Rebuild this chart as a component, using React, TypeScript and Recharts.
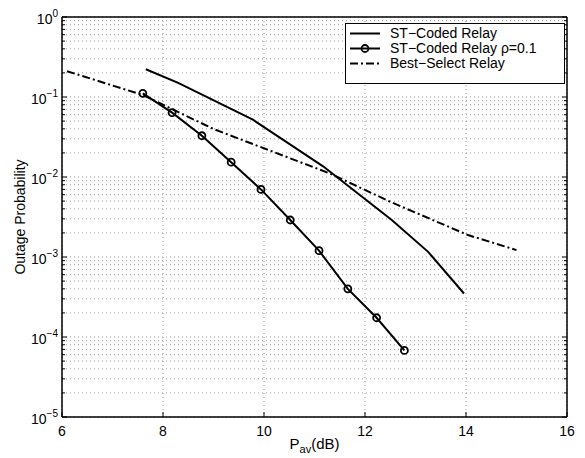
import React from 'react';
import { LineChart, Line, XAxis, YAxis, CartesianGrid, Legend } from 'recharts';

const FONT = '"Liberation Sans", Arial, Helvetica, sans-serif';

// ST-Coded Relay (solid line)
const stX = [7.66, 8.3, 9.78, 10.5, 11.17, 12.53, 13.25, 13.96];
const stY = [0.222, 0.15, 0.052, 0.026, 0.0136, 0.0029, 0.00116, 0.00035];

// ST-Coded Relay rho=0.1 (circles)
const rhoX = [7.6, 8.18, 8.77, 9.35, 9.94, 10.52, 11.09, 11.66, 12.23, 12.78];
const rhoY = [0.111, 0.0637, 0.0328, 0.0153, 0.007, 0.0029, 0.0012, 0.0004, 0.000174, 0.000068];

// Best-Select Relay (dash-dot)
const bsX = [6.1, 7.6, 9.0, 11.3, 12.5, 14.04, 15.0];
const bsY = [0.21, 0.106, 0.0398, 0.0111, 0.0049, 0.00188, 0.00122];

const xTicks = [6, 8, 10, 12, 14, 16];
const decades = [-5, -4, -3, -2, -1, 0];
const mantissas = [2, 3, 4, 5, 6, 7, 8, 9];

const yTicks = decades.flatMap((d) =>
  d === 0 ? [1] : [Math.pow(10, d), ...mantissas.map((m) => m * Math.pow(10, d))]
);

const toPts = (xs: number[], ys: number[]) => xs.map((x, i) => ({ x, y: ys[i] }));
const stData = toPts(stX, stY);
const rhoData = toPts(rhoX, rhoY);
const bsData = toPts(bsX, bsY);

const isMajor = (v: number) => Math.abs(Math.log10(v) - Math.round(Math.log10(v))) < 1e-6;

const LeftTick = (props: any) => {
  const { x, y, payload } = props;
  const v = payload.value;
  const major = isMajor(v);
  const e = Math.round(Math.log10(v));
  return (
    <g>
      <line x1={x} x2={x + (major ? 5 : 3)} y1={y} y2={y} stroke="#000" />
      {major && (
        <text x={x - 4} y={y + 7} textAnchor="end" fontFamily={FONT} fill="#000">
          <tspan fontSize={14}>10</tspan>
          <tspan fontSize={10} dy={-7}>{e === 0 ? '0' : '\u2212' + Math.abs(e)}</tspan>
        </text>
      )}
    </g>
  );
};

const RightTick = (props: any) => {
  const { x, y, payload } = props;
  const major = isMajor(payload.value);
  return <line x1={x} x2={x - (major ? 5 : 3)} y1={y} y2={y} stroke="#000" />;
};

const BottomTick = (props: any) => {
  const { x, y, payload } = props;
  return (
    <g>
      <line x1={x} x2={x} y1={y} y2={y - 5} stroke="#000" />
      <text x={x} y={y + 19} textAnchor="middle" fontSize={14} fontFamily={FONT} fill="#000">
        {payload.value}
      </text>
    </g>
  );
};

const TopTick = (props: any) => {
  const { x, y } = props;
  return <line x1={x} x2={x} y1={y} y2={y + 5} stroke="#000" />;
};

const LegendBox = () => (
  <svg width={220} height={61} style={{ display: 'block' }}>
    <rect x={0.5} y={0.5} width={219} height={60} fill="#fff" stroke="#000" />
    <line x1={5} x2={35} y1={10.5} y2={10.5} stroke="#000" strokeWidth={2} />
    <text x={45} y={15} fontSize={14} fontFamily={FONT}>ST−Coded Relay</text>
    <line x1={5} x2={35} y1={25.5} y2={25.5} stroke="#000" strokeWidth={2} />
    <circle cx={20} cy={25.5} r={3.5} fill="none" stroke="#000" strokeWidth={1.8} />
    <text x={45} y={30} fontSize={14} fontFamily={FONT}>ST−Coded Relay ρ=0.1</text>
    <line x1={5} x2={35} y1={40.5} y2={40.5} stroke="#000" strokeWidth={2} strokeDasharray="8 3 2 3" />
    <text x={45} y={45} fontSize={14} fontFamily={FONT}>Best−Select Relay</text>
  </svg>
);

const App: React.FC = () => {
  return (
    <div style={{ position: 'absolute', left: 0, top: 0, background: '#fff' }}>
      <LineChart width={585} height={458} margin={{ top: 16, right: 17, bottom: 40, left: 61 }}>
        <CartesianGrid stroke="#999" strokeDasharray="1 3" />
        <XAxis
          dataKey="x"
          type="number"
          domain={[6, 16]}
          ticks={xTicks}
          interval={0}
          height={1}
          tickSize={0}
          tickMargin={0}
          tickLine={false}
          tick={BottomTick}
          axisLine={{ stroke: '#000', strokeWidth: 1.5 }}
          allowDataOverflow
          label={{
            content: (p: any) => {
              const vb = p.viewBox;
              return (
                <text x={vb.x + vb.width / 2 - 25} y={449} fontSize={15} fontFamily={FONT} fill="#000">
                  P<tspan fontSize={11} dy={4}>av</tspan>
                  <tspan dy={-4}>(dB)</tspan>
                </text>
              );
            },
          }}
        />
        <XAxis
          xAxisId="top"
          orientation="top"
          type="number"
          domain={[6, 16]}
          ticks={xTicks}
          interval={0}
          height={1}
          tickSize={0}
          tickMargin={0}
          tickLine={false}
          tick={TopTick}
          axisLine={{ stroke: '#000', strokeWidth: 1.5 }}
        />
        <YAxis
          type="number"
          scale="log"
          domain={[1e-5, 1]}
          ticks={yTicks}
          interval={0}
          width={1}
          tickSize={0}
          tickMargin={0}
          tickLine={false}
          tick={LeftTick}
          axisLine={{ stroke: '#000', strokeWidth: 1.5 }}
          allowDataOverflow
          label={{
            content: (p: any) => {
              const vb = p.viewBox;
              const cy = vb.y + vb.height / 2;
              return (
                <text
                  x={25}
                  y={cy}
                  transform={`rotate(-90, 25, ${cy})`}
                  textAnchor="middle"
                  fontSize={14}
                  fontFamily={FONT}
                  fill="#000"
                >
                  Outage Probability
                </text>
              );
            },
          }}
        />
        <YAxis
          yAxisId="right"
          orientation="right"
          type="number"
          scale="log"
          domain={[1e-5, 1]}
          ticks={yTicks}
          interval={0}
          width={1}
          tickSize={0}
          tickMargin={0}
          tickLine={false}
          tick={RightTick}
          axisLine={{ stroke: '#000', strokeWidth: 1.5 }}
          allowDataOverflow
        />
        <Legend
          layout="vertical"
          align="center"
          verticalAlign="middle"
          wrapperStyle={{ left: 345, top: 23, width: 220, height: 61 }}
          content={() => <LegendBox />}
        />
        <Line
          data={stData}
          dataKey="y"
          name="ST-Coded Relay"
          type="linear"
          stroke="#000"
          strokeWidth={2}
          dot={false}
          activeDot={false}
          isAnimationActive={false}
        />
        <Line
          data={rhoData}
          dataKey="y"
          name="ST-Coded Relay ρ=0.1"
          type="linear"
          stroke="#000"
          strokeWidth={2}
          dot={{ r: 3.5, fill: 'none', stroke: '#000', strokeWidth: 1.8 }}
          activeDot={false}
          isAnimationActive={false}
        />
        <Line
          data={bsData}
          dataKey="y"
          name="Best-Select Relay"
          type="linear"
          stroke="#000"
          strokeWidth={2}
          strokeDasharray="8 3 2 3"
          dot={false}
          activeDot={false}
          isAnimationActive={false}
        />
      </LineChart>
    </div>
  );
};

export default App;
